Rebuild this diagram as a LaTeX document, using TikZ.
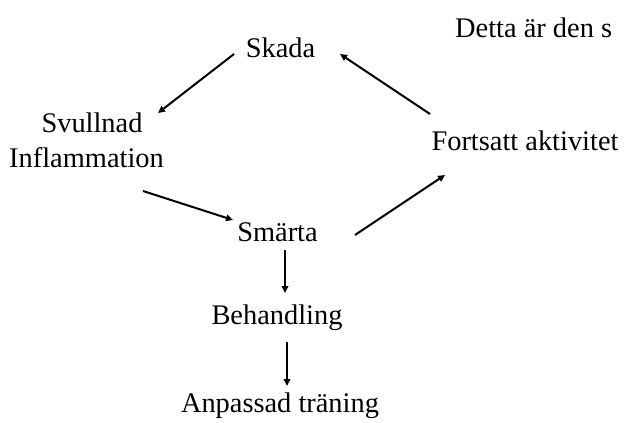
\documentclass[tikz,border=0pt]{standalone}
\usepackage{fontspec}
\setmainfont{Liberation Serif}
\usetikzlibrary{arrows.meta}
\begin{document}
\begin{tikzpicture}[x=1bp,y=1bp,
  lbl/.style={anchor=base,inner sep=0pt,font=\fontsize{28.5}{35}\selectfont},
  arr/.style={line width=2bp,-{Triangle[length=7bp,width=6.5bp]}}]
\useasboundingbox (0,0) rectangle (624,422);
% texts (y = 422 - image y of baseline)
\node[lbl,anchor=base west] (detta) at (455,385) {Detta är den s};
\node[lbl] (skada) at (280.5,365) {Skada};
\node[lbl] (svull) at (92,290) {Svullnad};
\node[lbl] (infl) at (86.5,255) {Inflammation};
\node[lbl] (forts) at (525,272) {Fortsatt aktivitet};
\node[lbl] (smarta) at (277.5,181) {Smärta};
\node[lbl] (beh) at (277,98) {Behandling};
\node[lbl] (anp) at (280,10) {Anpassad träning};
% arrow end points
\coordinate (a1s) at (234,368);
\coordinate (a1e) at (158,309);
\coordinate (a2s) at (430,308);
\coordinate (a2e) at (340,368);
\coordinate (a3s) at (143,231);
\coordinate (a3e) at (233,202);
\coordinate (a4s) at (355,187);
\coordinate (a4e) at (445,247);
\coordinate (a5s) at (285,172);
\coordinate (a5e) at (285,129);
\coordinate (a6s) at (287,80);
\coordinate (a6e) at (287,36);
\draw[arr] (a1s) -- (a1e);
\draw[arr] (a2s) -- (a2e);
\draw[arr] (a3s) -- (a3e);
\draw[arr] (a4s) -- (a4e);
\draw[arr] (a5s) -- (a5e);
\draw[arr] (a6s) -- (a6e);
\end{tikzpicture}
\end{document}
